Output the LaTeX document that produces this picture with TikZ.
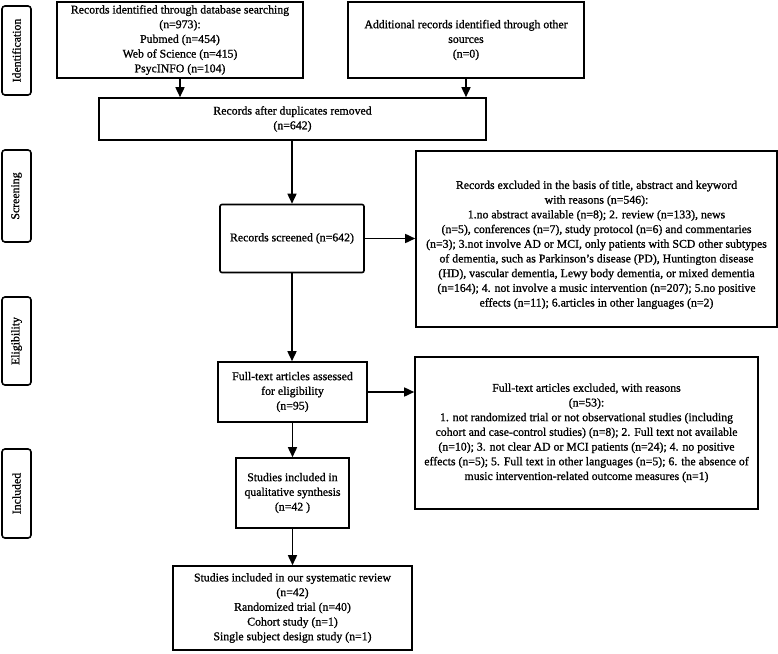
\documentclass[tikz,border=0pt]{standalone}
\usepackage{fontspec}
\setmainfont[FakeBold=1]{Liberation Serif}
\usetikzlibrary{arrows.meta}
\begin{document}
\begin{tikzpicture}[x=1pt,y=-1pt,
  every node/.style={font=\fontsize{11.8}{14.7}\selectfont, align=center, inner sep=0pt},
  boxnode/.style={draw, line width=1.6pt},
  sidelabel/.style={draw, line width=1.6pt, rounded corners=3pt, rotate=90, minimum height=29pt},
  flow/.style={line width=1.6pt, -{Triangle[length=10pt,width=9pt]}}
]
\useasboundingbox (0,0) rectangle (778,653);

% side labels
\node[sidelabel, minimum width=89pt] (lid)  at (16.5,50.5) {Identification};
\node[sidelabel, minimum width=92pt] (lscr) at (16.5,196) {Screening};
\node[sidelabel, minimum width=88pt] (leli) at (16.5,341) {Eligibility};
\node[sidelabel, minimum width=89pt] (linc) at (16.5,493.5) {Included};

% boxes
\node[boxnode, minimum width=246pt, minimum height=76pt] (db) at (180,40)
  {Records identified through database searching\\(n=973):\\Pubmed (n=454)\\Web of Science (n=415)\\PsycINFO (n=104)};
\node[boxnode, minimum width=236pt, minimum height=76pt] (other) at (466,40)
  {Additional records identified through other\\sources\\(n=0)};
\node[boxnode, minimum width=387pt, minimum height=42pt] (dup) at (292.5,119)
  {Records after duplicates removed\\(n=642)};
\node[boxnode, rounded corners=2pt, minimum width=144pt, minimum height=68pt] (scr) at (292,238.5)
  {Records screened (n=642)};
\node[boxnode, minimum width=361pt, minimum height=176pt] (exc1) at (596.5,239)
  {\rule{0pt}{20pt}Records excluded in the basis of title, abstract and keyword\\
   with reasons (n=546):\\
   1.no abstract available (n=8); 2. review (n=133), news\\
   (n=5), conferences (n=7), study protocol (n=6) and commentaries\\
   (n=3); 3.not involve AD or MCI, only patients with SCD other subtypes\\
   of dementia, such as Parkinson's disease (PD), Huntington disease\\
   (HD), vascular dementia, Lewy body dementia, or mixed dementia\\
   (n=164); 4. not involve a music intervention (n=207); 5.no positive\\
   effects (n=11); 6.articles in other languages (n=2)};
\node[boxnode, minimum width=149pt, minimum height=60pt] (full) at (292.5,392)
  {Full-text articles assessed\\for eligibility\\(n=95)};
\node[boxnode, minimum width=343pt, minimum height=152pt] (exc2) at (586.5,433)
  {Full-text articles excluded, with reasons\\
   (n=53):\\
   1. not randomized trial or not observational studies (including\\
   cohort and case-control studies) (n=8); 2. Full text not available\\
   (n=10); 3. not clear AD or MCI patients (n=24); 4. no positive\\
   effects (n=5); 5. Full text in other languages (n=5); 6. the absence of\\
   music intervention-related outcome measures (n=1)};
\node[boxnode, minimum width=113pt, minimum height=70pt] (qual) at (292.5,493)
  {Studies included in\\qualitative synthesis\\(n=42 )};
\node[boxnode, minimum width=239pt, minimum height=84pt] (final) at (292.5,608)
  {Studies included in our systematic review\\(n=42)\\Randomized trial (n=40)\\Cohort study (n=1)\\Single subject design study (n=1)};

% connectors
\draw[flow] (db.south) -- (db.south |- dup.north);
\draw[flow] (other.south) -- (other.south |- dup.north);
\draw[flow] (scr.north |- dup.south) -- (scr.north);
\draw[flow] (scr.east) -- (scr.east -| exc1.west);
\draw[flow] (scr.south) -- (scr.south |- full.north);
\draw[flow] (full.east) -- (full.east -| exc2.west);
\draw[flow] (full.south) -- (full.south |- qual.north);
\draw[flow] (qual.south) -- (qual.south |- final.north);
\end{tikzpicture}
\end{document}
